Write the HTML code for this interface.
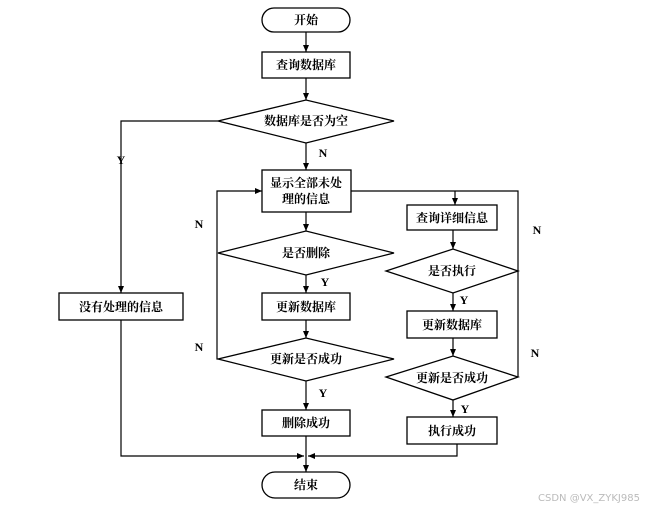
<!DOCTYPE html>
<html><head><meta charset="utf-8"><style>
html,body{margin:0;padding:0;background:#fff;}
svg text{font-family:"Liberation Serif","Noto Serif CJK SC",serif;font-weight:bold;font-size:12px;fill:#000;}
</style></head><body>
<svg width="662" height="511" viewBox="0 0 662 511" xmlns="http://www.w3.org/2000/svg">
<defs><marker id="a" markerWidth="8" markerHeight="8" refX="7" refY="4" orient="auto" markerUnits="userSpaceOnUse"><path d="M0,1 L7,4 L0,7 Z" fill="#000"/></marker></defs>
<g stroke="#000" stroke-width="1.3" fill="none">
<rect x="262" y="8" width="88" height="24" rx="12"/>
<rect x="262" y="52" width="88" height="26"/>
<polygon points="218,121 306,100 394,121 306,143"/>
<rect x="262" y="170" width="89" height="42"/>
<polygon points="218,253 306,231 394,253 306,275"/>
<rect x="262" y="293" width="88" height="27"/>
<polygon points="218,359 306,338 394,359 306,381"/>
<rect x="262" y="410" width="88" height="26"/>
<rect x="262" y="472" width="88" height="26" rx="13"/>
<rect x="59" y="293" width="124" height="27"/>
<rect x="407" y="205" width="90" height="25"/>
<polygon points="386,271 453,249 518,271 453,293"/>
<rect x="407" y="311" width="90" height="27"/>
<polygon points="386,377 453,356 518,377 453,400"/>
<rect x="407" y="417" width="90" height="27"/>
<polyline points="351,191 518,191 518,377" stroke-width="1.2"/>
</g>
<g stroke="#000" stroke-width="1.2" fill="none" marker-end="url(#a)">
<line x1="306" y1="32" x2="306" y2="52"/>
<line x1="306" y1="78" x2="306" y2="100"/>
<line x1="306" y1="143" x2="306" y2="170"/>
<line x1="306" y1="212" x2="306" y2="231"/>
<line x1="306" y1="275" x2="306" y2="293"/>
<line x1="306" y1="320" x2="306" y2="338"/>
<line x1="306" y1="381" x2="306" y2="410"/>
<line x1="306" y1="436" x2="306" y2="472"/>
<polyline points="218,121 121,121 121,293"/>
<polyline points="121,320 121,456 304,456"/>
<polyline points="218,359 217,359 217,191 262,191"/>
<polyline points="457,444 457,456 308,456"/>
<line x1="455" y1="191" x2="455" y2="205"/>
<line x1="453" y1="230" x2="453" y2="249"/>
<line x1="453" y1="293" x2="453" y2="311"/>
<line x1="453" y1="338" x2="453" y2="356"/>
<line x1="453" y1="400" x2="453" y2="417"/>
</g>
<g text-anchor="middle">
<text x="306" y="24">开始</text>
<text x="306" y="69">查询数据库</text>
<text x="306" y="125">数据库是否为空</text>
<text x="306" y="187">显示全部未处</text>
<text x="306" y="203">理的信息</text>
<text x="306" y="257">是否删除</text>
<text x="306" y="311">更新数据库</text>
<text x="306" y="363">更新是否成功</text>
<text x="306" y="427">删除成功</text>
<text x="306" y="489">结束</text>
<text x="121" y="311">没有处理的信息</text>
<text x="452" y="222">查询详细信息</text>
<text x="452" y="275">是否执行</text>
<text x="452" y="329">更新数据库</text>
<text x="452" y="382">更新是否成功</text>
<text x="452" y="435">执行成功</text>
<text x="323" y="157">N</text>
<text x="121" y="164">Y</text>
<text x="199" y="228">N</text>
<text x="199" y="351">N</text>
<text x="325" y="286">Y</text>
<text x="323" y="397">Y</text>
<text x="464" y="304">Y</text>
<text x="465" y="413">Y</text>
<text x="537" y="234">N</text>
<text x="535" y="357">N</text>
</g>
<text x="538" y="501" style="font-family:'DejaVu Sans',sans-serif;font-weight:normal;font-size:10px;fill:#bbb">CSDN @VX_ZYKJ985</text>
</svg>
</body></html>
